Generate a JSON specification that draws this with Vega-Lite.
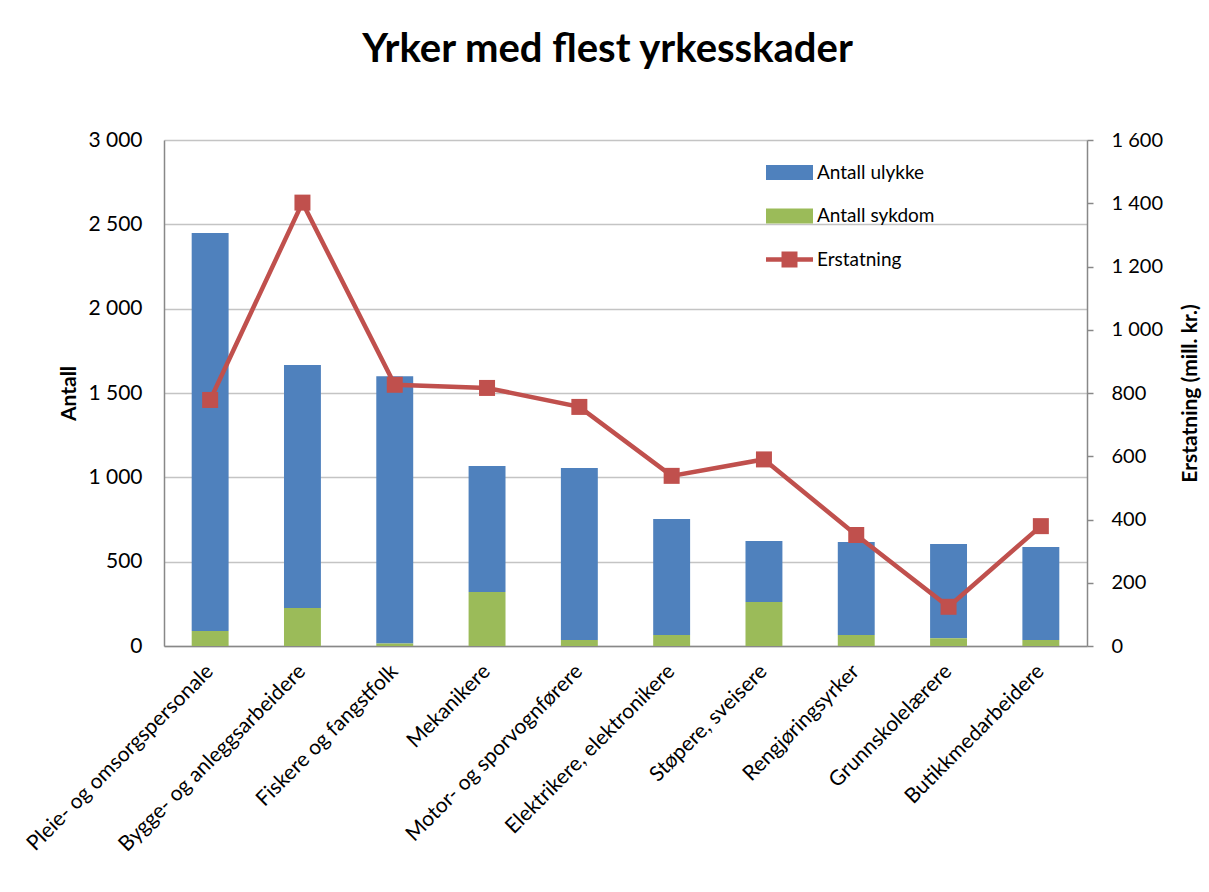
{
  "$schema": "https://vega.github.io/schema/vega-lite/v6.json",
  "autosize": {"type": "none"},
  "width": 923,
  "height": 506,
  "padding": {"left": 164, "top": 140, "right": 122, "bottom": 246},
  "background": "white",
  "config": {
    "font": "Lato",
    "view": {"stroke": null},
    "locale": {"number": {"decimal": ",", "thousands": " ", "grouping": [3], "currency": ["", " kr"]}}
  },
  "title": {
    "text": "Yrker med flest yrkesskader",
    "fontSize": 40,
    "fontWeight": "bold",
    "font": "Lato",
    "color": "#000000",
    "anchor": "middle",
    "dx": -18,
    "offset": 59
  },
  "datasets": {
    "bars": [
      {"yrke": "Pleie- og omsorgspersonale", "serie": "Antall ulykke", "antall": 2359},
      {"yrke": "Pleie- og omsorgspersonale", "serie": "Antall sykdom", "antall": 89},
      {"yrke": "Bygge- og anleggsarbeidere", "serie": "Antall ulykke", "antall": 1440},
      {"yrke": "Bygge- og anleggsarbeidere", "serie": "Antall sykdom", "antall": 226},
      {"yrke": "Fiskere og fangstfolk", "serie": "Antall ulykke", "antall": 1585},
      {"yrke": "Fiskere og fangstfolk", "serie": "Antall sykdom", "antall": 15},
      {"yrke": "Mekanikere", "serie": "Antall ulykke", "antall": 747},
      {"yrke": "Mekanikere", "serie": "Antall sykdom", "antall": 320},
      {"yrke": "Motor- og sporvognførere", "serie": "Antall ulykke", "antall": 1019},
      {"yrke": "Motor- og sporvognførere", "serie": "Antall sykdom", "antall": 36},
      {"yrke": "Elektrikere, elektronikere", "serie": "Antall ulykke", "antall": 688},
      {"yrke": "Elektrikere, elektronikere", "serie": "Antall sykdom", "antall": 65},
      {"yrke": "Støpere, sveisere", "serie": "Antall ulykke", "antall": 361},
      {"yrke": "Støpere, sveisere", "serie": "Antall sykdom", "antall": 261},
      {"yrke": "Rengjøringsyrker", "serie": "Antall ulykke", "antall": 551},
      {"yrke": "Rengjøringsyrker", "serie": "Antall sykdom", "antall": 65},
      {"yrke": "Grunnskolelærere", "serie": "Antall ulykke", "antall": 559},
      {"yrke": "Grunnskolelærere", "serie": "Antall sykdom", "antall": 46},
      {"yrke": "Butikkmedarbeidere", "serie": "Antall ulykke", "antall": 551},
      {"yrke": "Butikkmedarbeidere", "serie": "Antall sykdom", "antall": 36}
    ],
    "linje": [
      {"yrke": "Pleie- og omsorgspersonale", "serie": "Erstatning", "erstatning": 778},
      {"yrke": "Bygge- og anleggsarbeidere", "serie": "Erstatning", "erstatning": 1402},
      {"yrke": "Fiskere og fangstfolk", "serie": "Erstatning", "erstatning": 826},
      {"yrke": "Mekanikere", "serie": "Erstatning", "erstatning": 816},
      {"yrke": "Motor- og sporvognførere", "serie": "Erstatning", "erstatning": 756},
      {"yrke": "Elektrikere, elektronikere", "serie": "Erstatning", "erstatning": 538},
      {"yrke": "Støpere, sveisere", "serie": "Erstatning", "erstatning": 590},
      {"yrke": "Rengjøringsyrker", "serie": "Erstatning", "erstatning": 351},
      {"yrke": "Grunnskolelærere", "serie": "Erstatning", "erstatning": 124},
      {"yrke": "Butikkmedarbeidere", "serie": "Erstatning", "erstatning": 379}
    ]
  },
  "encoding": {
    "x": {
      "field": "yrke",
      "type": "nominal",
      "sort": null,
      "scale": {"paddingInner": 0.6, "paddingOuter": 0.3},
      "axis": {
        "title": null,
        "labelAngle": -45,
        "labelAlign": "right",
        "labelBaseline": "middle",
        "labelFontSize": 21,
        "labelColor": "#000000",
        "labelPadding": 22,
        "ticks": false,
        "domainColor": "#888888",
        "domainWidth": 1.5,
        "labelLimit": 400
      }
    }
  },
  "layer": [
    {
      "data": {"name": "bars"},
      "mark": {"type": "bar"},
      "encoding": {
        "y": {
          "field": "antall",
          "type": "quantitative",
          "stack": "zero",
          "scale": {"domain": [0, 3000], "nice": false},
          "axis": {
            "title": "Antall",
            "titleFontSize": 21,
            "titleFontWeight": "bold",
            "titleColor": "#000000",
            "titlePadding": 8,
            "values": [0, 500, 1000, 1500, 2000, 2500, 3000],
            "format": ",d",
            "labelFontSize": 21,
            "labelColor": "#000000",
            "labelPadding": 22,
            "ticks": false,
            "grid": true,
            "gridColor": "#c4c4c4",
            "gridWidth": 1.5,
            "domainColor": "#888888",
            "domainWidth": 1.5
          }
        },
        "color": {
          "field": "serie",
          "type": "nominal",
          "scale": {
            "domain": ["Antall ulykke", "Antall sykdom", "Erstatning"],
            "range": ["#4F81BD", "#9BBB59", "#C0504D"]
          },
          "legend": {
            "title": null,
            "orient": "none",
            "legendX": 602,
            "legendY": 9,
            "labelFontSize": 19,
            "labelColor": "#000000",
            "rowPadding": 9.5,
            "symbolSize": 2209,
            "labelOffset": 4,
            "encode": {
              "symbols": {
                "update": {
                  "shape": {"signal": "datum.value === 'Erstatning' ? 'M-1,-0.1H-0.34V-0.34H0.34V-0.1H1V0.1H0.34V0.34H-0.34V0.1H-1Z' : 'M-1,-0.32H1V0.32H-1Z'"},
                  "fill": {"signal": "datum.value === 'Erstatning' ? '#C0504D' : (datum.value === 'Antall sykdom' ? '#9BBB59' : '#4F81BD')"},
                  "fillOpacity": {"value": 1},
                  "strokeWidth": {"value": 0},
                  "opacity": {"value": 1}
                }
              }
            }
          }
        },
        "order": {"field": "serie", "sort": "ascending"}
      }
    },
    {
      "data": {"name": "linje"},
      "mark": {"type": "line", "strokeWidth": 4.5, "point": {"shape": "square", "size": 256, "filled": true, "opacity": 1}},
      "encoding": {
        "y": {
          "field": "erstatning",
          "type": "quantitative",
          "scale": {"domain": [0, 1600], "nice": false},
          "axis": {
            "orient": "right",
            "title": "Erstatning (mill. kr.)",
            "titleFontSize": 21,
            "titleFontWeight": "bold",
            "titleColor": "#000000",
            "titleAngle": 270,
            "titlePadding": 38,
            "values": [0, 200, 400, 600, 800, 1000, 1200, 1400, 1600],
            "format": ",d",
            "labelFontSize": 20,
            "labelColor": "#000000",
            "labelPadding": 18,
            "ticks": true,
            "tickSize": 6,
            "tickColor": "#888888",
            "tickWidth": 1.5,
            "grid": false,
            "domainColor": "#888888",
            "domainWidth": 1.5
          }
        },
        "color": {"field": "serie", "type": "nominal"}
      }
    }
  ],
  "resolve": {"scale": {"y": "independent"}}
}
